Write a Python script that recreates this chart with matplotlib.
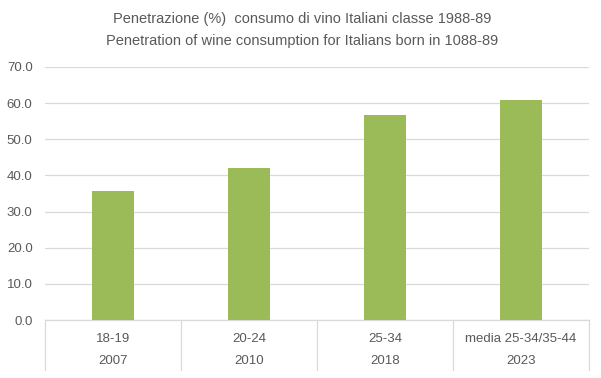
import matplotlib
matplotlib.use("Agg")
import matplotlib.pyplot as plt
from matplotlib.transforms import blended_transform_factory

GREEN = "#9BBB59"
GRAY_TXT = "#595959"
GRID = "#D9D9D9"

fasce = ["18-19", "20-24", "25-34", "media 25-34/35-44"]
anni = ["2007", "2010", "2018", "2023"]
penetrazione = [35.7, 42.0, 56.7, 60.9]
y_ticks = [0, 10, 20, 30, 40, 50, 60, 70]

plt.rcParams["font.family"] = ["Liberation Sans Narrow", "Liberation Sans", "DejaVu Sans"]

fig = plt.figure(figsize=(6.01, 3.78), dpi=100)
ax = fig.add_axes([0.075, 0.1534, 0.905, 0.6694])

x = list(range(len(penetrazione)))
ax.bar(x, penetrazione, width=0.31, color=GREEN, zorder=3)
ax.set_xlim(-0.5, len(x) - 0.5)
ax.set_ylim(0, 70)
ax.set_yticks(y_ticks)
ax.set_yticklabels([f"{v:.1f}" for v in y_ticks], fontsize=9.5, color=GRAY_TXT)
ax.tick_params(axis="y", length=0, pad=9)
ax.set_xticks([])
ax.grid(axis="y", color=GRID, lw=0.9, zorder=0)
for s in ["top", "right", "left"]:
    ax.spines[s].set_visible(False)
ax.spines["bottom"].set_color(GRID)
ax.spines["bottom"].set_linewidth(0.9)

# etichette a due livelli sotto l'asse
tr = blended_transform_factory(ax.transData, ax.transAxes)
for i, (f, a) in enumerate(zip(fasce, anni)):
    ax.text(i, -0.075, f, transform=tr, ha="center", va="center", fontsize=9.5, color=GRAY_TXT)
    ax.text(i, -0.162, a, transform=tr, ha="center", va="center", fontsize=9.5, color=GRAY_TXT)
for b in [i - 0.5 for i in range(len(x) + 1)]:
    ax.plot([b, b], [0, -0.198], transform=tr, color=GRID, lw=0.9, clip_on=False)

fig.text(0.502, 0.95, "Penetrazione (%)  consumo di vino Italiani classe 1988-89",
         ha="center", va="center", fontsize=10.5, color=GRAY_TXT)
fig.text(0.502, 0.892, "Penetration of wine consumption for Italians born in 1088-89",
         ha="center", va="center", fontsize=10.5, color=GRAY_TXT)

fig.savefig("out.png", dpi=100)
